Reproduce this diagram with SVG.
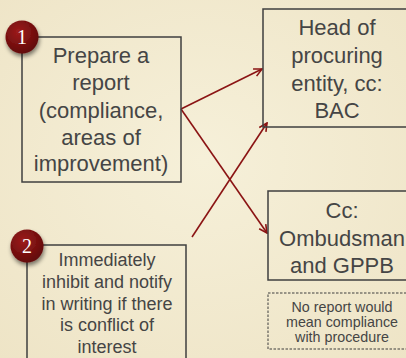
<svg xmlns="http://www.w3.org/2000/svg" width="406" height="358" viewBox="0 0 406 358">
<defs>
<radialGradient id="bg" cx="50%" cy="45%" r="75%">
<stop offset="0" stop-color="#F6F0D9"/>
<stop offset="1" stop-color="#EEE4C6"/>
</radialGradient>
<radialGradient id="badge" cx="40%" cy="35%" r="70%">
<stop offset="0" stop-color="#9E1C1C"/>
<stop offset="1" stop-color="#5E0808"/>
</radialGradient>
<filter id="sh" x="-50%" y="-50%" width="200%" height="200%">
<feGaussianBlur in="SourceAlpha" stdDeviation="2"/>
<feOffset dx="1" dy="3" result="b"/>
<feComponentTransfer><feFuncA type="linear" slope="0.5"/></feComponentTransfer>
<feMerge><feMergeNode/><feMergeNode in="SourceGraphic"/></feMerge>
</filter>
<marker id="ah" markerWidth="10" markerHeight="10" refX="9" refY="5" orient="auto" markerUnits="userSpaceOnUse">
<path d="M1,1 L9,5 L1,9" fill="none" stroke="#8B1414" stroke-width="1.6"/>
</marker>
</defs>
<style>
.box{fill:none;stroke:#3F3F3F;stroke-width:1.5}
.dash{fill:none;stroke:#3F3F3F;stroke-width:1;stroke-dasharray:2.5 1.5}
.t{font-family:"Liberation Sans",Arial,sans-serif;fill:#454545;text-anchor:middle}
.big{font-size:22px}
.mid{font-size:18px}
.sm{font-size:14.3px}
.num{font-family:"Liberation Serif","Times New Roman",serif;font-size:20px;fill:#FFFFFF;text-anchor:middle}
.conn{stroke:#8B1414;stroke-width:1.6;fill:none}
</style>
<rect width="406" height="358" fill="url(#bg)"/>
<g id="connectors">
<line class="conn" x1="181" y1="109" x2="262" y2="69" marker-end="url(#ah)"/>
<line class="conn" x1="181" y1="109" x2="267" y2="233" marker-end="url(#ah)"/>
<line class="conn" x1="192" y1="237" x2="267" y2="123" marker-end="url(#ah)"/>
</g>
<g id="node1">
<rect class="box" x="22" y="37" width="159" height="145"/>
<text class="t big" x="101" y="63">Prepare a</text>
<text class="t big" x="101" y="90">report</text>
<text class="t big" x="101" y="118">(compliance,</text>
<text class="t big" x="101" y="145">areas of</text>
<text class="t big" x="101" y="171">improvement)</text>
<g filter="url(#sh)"><circle cx="22" cy="37" r="16.5" fill="url(#badge)"/></g>
<text class="num" x="22" y="44">1</text>
</g>
<g id="node2">
<rect class="box" x="263" y="9" width="150" height="118"/>
<text class="t big" x="337" y="35">Head of</text>
<text class="t big" x="337" y="63">procuring</text>
<text class="t big" x="337" y="91">entity, cc:</text>
<text class="t big" x="337" y="118">BAC</text>
</g>
<g id="node3">
<rect class="box" x="268" y="191" width="150" height="89"/>
<text class="t big" x="342" y="218">Cc:</text>
<text class="t big" x="342" y="246">Ombudsman</text>
<text class="t big" x="342" y="273">and GPPB</text>
</g>
<g id="node4">
<rect class="dash" x="268" y="293" width="150" height="56"/>
<text class="t sm" x="342" y="312">No report would</text>
<text class="t sm" x="342" y="327">mean compliance</text>
<text class="t sm" x="342" y="342">with procedure</text>
</g>
<g id="node5">
<rect class="box" x="27" y="245" width="159" height="130"/>
<text class="t mid" x="107" y="266">Immediately</text>
<text class="t mid" x="107" y="288">inhibit and notify</text>
<text class="t mid" x="107" y="310">in writing if there</text>
<text class="t mid" x="107" y="331">is conflict of</text>
<text class="t mid" x="107" y="353">interest</text>
<g filter="url(#sh)"><circle cx="27" cy="246" r="16.5" fill="url(#badge)"/></g>
<text class="num" x="27" y="253">2</text>
</g>
</svg>
